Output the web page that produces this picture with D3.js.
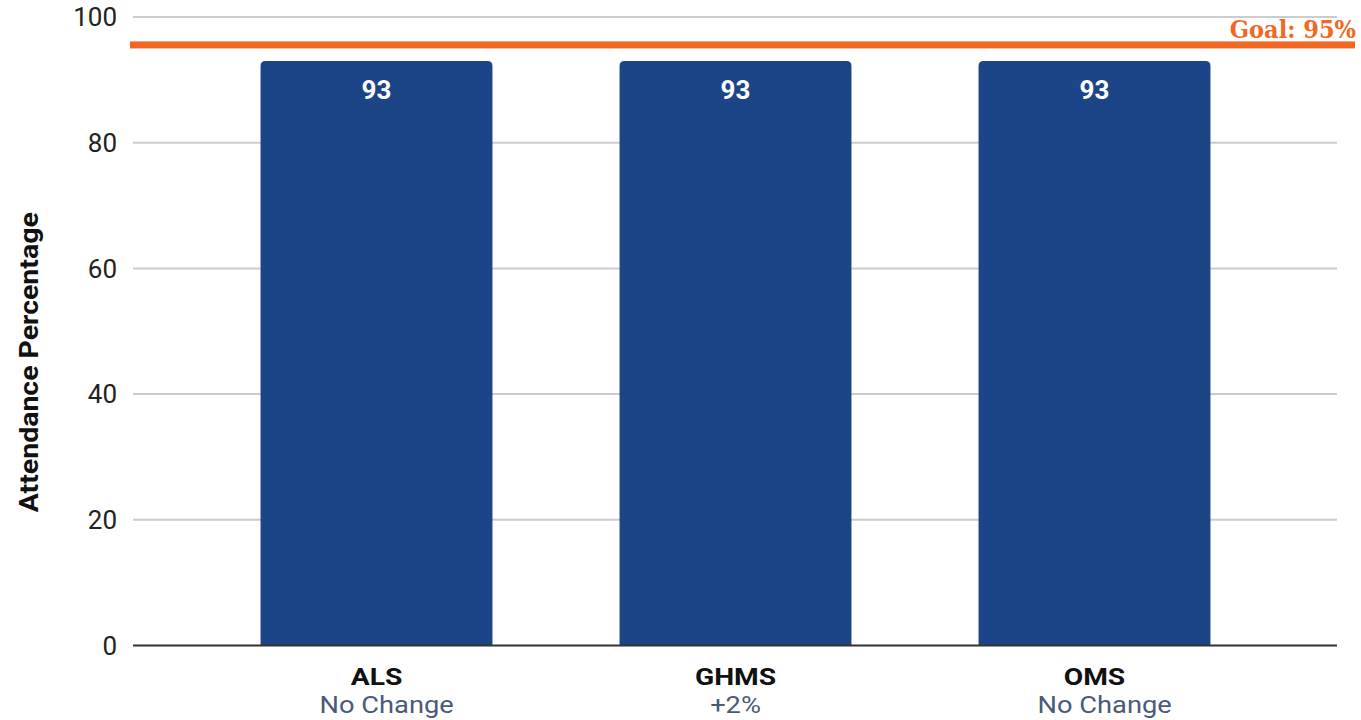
<!DOCTYPE html>
<html>
<head>
<meta charset="utf-8">
<script src="https://cdn.jsdelivr.net/npm/d3@7"></script>
<style>
  html, body { margin: 0; padding: 0; background: #fff; }
  svg { display: block; font-family: Roboto, "Noto Sans", sans-serif; }
  .sub { white-space: pre; }
</style>
</head>
<body>
<svg id="chart" width="1361" height="720"></svg>
<script>
// School attendance data
const schools = ["ALS", "GHMS", "OMS"];
const changes = ["   No Change", "+2%", "   No Change"];
const attendance = [93, 93, 93];
const yTicks = [0, 20, 40, 60, 80, 100];
const goal = 95;
const goalLabel = "Goal: 95%";
const yTitle = "Attendance Percentage";

const svg = d3.select("#chart");

const y = d3.scaleLinear().domain([0, 100]).range([645.5, 17]);
const x = d3.scaleBand().domain(schools).range([197, 1274])
  .paddingInner(0.354).paddingOuter(0.177);

const gridLeft = 133, gridRight = 1337;

// horizontal gridlines
svg.append("g").selectAll("line")
  .data(yTicks.filter(d => d !== 0))
  .join("line")
  .attr("x1", gridLeft).attr("x2", gridRight)
  .attr("y1", d => y(d)).attr("y2", d => y(d))
  .attr("stroke", "#cccccc").attr("stroke-width", 2);

// y tick labels
svg.append("g").selectAll("text")
  .data(yTicks)
  .join("text")
  .attr("x", 117).attr("y", d => y(d))
  .attr("dy", "0.36em")
  .attr("text-anchor", "end")
  .attr("font-size", 26)
  .attr("fill", "#222")
  .text(d => d);

// y axis title
svg.append("text")
  .attr("transform", `translate(38, ${(y(0) + y(100)) / 2 + 31}) rotate(-90)`)
  .attr("text-anchor", "middle")
  .attr("font-size", 26)
  .attr("font-weight", "bold")
  .attr("fill", "#111")
  .attr("textLength", 300)
  .attr("lengthAdjust", "spacingAndGlyphs")
  .text(yTitle);

// bars with rounded top corners
const r = 5;
function barPath(x0, w, yTop, yBot) {
  return `M${x0},${yBot} L${x0},${yTop + r} Q${x0},${yTop} ${x0 + r},${yTop}
          L${x0 + w - r},${yTop} Q${x0 + w},${yTop} ${x0 + w},${yTop + r} L${x0 + w},${yBot} Z`;
}
const data = schools.map((s, i) => ({ s, v: attendance[i], c: changes[i] }));

svg.append("g").selectAll("path")
  .data(data)
  .join("path")
  .attr("d", d => barPath(x(d.s), x.bandwidth(), y(d.v), y(0)))
  .attr("fill", "#1c4587");

// value labels inside bars
svg.append("g").selectAll("text")
  .data(data)
  .join("text")
  .attr("x", d => x(d.s) + x.bandwidth() / 2)
  .attr("y", d => y(d.v) + 38)
  .attr("text-anchor", "middle")
  .attr("font-size", 26)
  .attr("font-weight", "bold")
  .attr("fill", "#fff")
  .text(d => d.v);

// baseline
svg.append("line")
  .attr("x1", gridLeft).attr("x2", gridRight)
  .attr("y1", y(0)).attr("y2", y(0))
  .attr("stroke", "#333").attr("stroke-width", 2);

// category labels (slightly widened lettering)
svg.append("g").selectAll("text")
  .data(data)
  .join("text")
  .attr("transform", d => `translate(${x(d.s) + x.bandwidth() / 2}, 685) scale(1.2, 1)`)
  .attr("text-anchor", "middle")
  .attr("font-size", 23.5)
  .attr("font-weight", "bold")
  .attr("fill", "#111")
  .text(d => d.s);

svg.append("g").selectAll("text")
  .data(data)
  .join("text")
  .attr("class", "sub")
  .attr("transform", d => `translate(${x(d.s) + x.bandwidth() / 2}, 713) scale(1.16, 1)`)
  .attr("text-anchor", "middle")
  .attr("font-size", 23.5)
  .attr("fill", "#4a5a78")
  .text(d => d.c);

// goal line
svg.append("rect")
  .attr("x", 130).attr("width", 1355 - 130)
  .attr("y", y(goal) - 7).attr("height", 7)
  .attr("fill", "#f26722");

svg.append("text")
  .attr("x", 1356).attr("y", 38)
  .attr("text-anchor", "end")
  .attr("font-family", "'DejaVu Serif Condensed', 'DejaVu Serif', serif")
  .attr("font-size", 25)
  .attr("font-weight", "bold")
  .attr("fill", "#f26722")
  .text(goalLabel);
</script>
</body>
</html>
